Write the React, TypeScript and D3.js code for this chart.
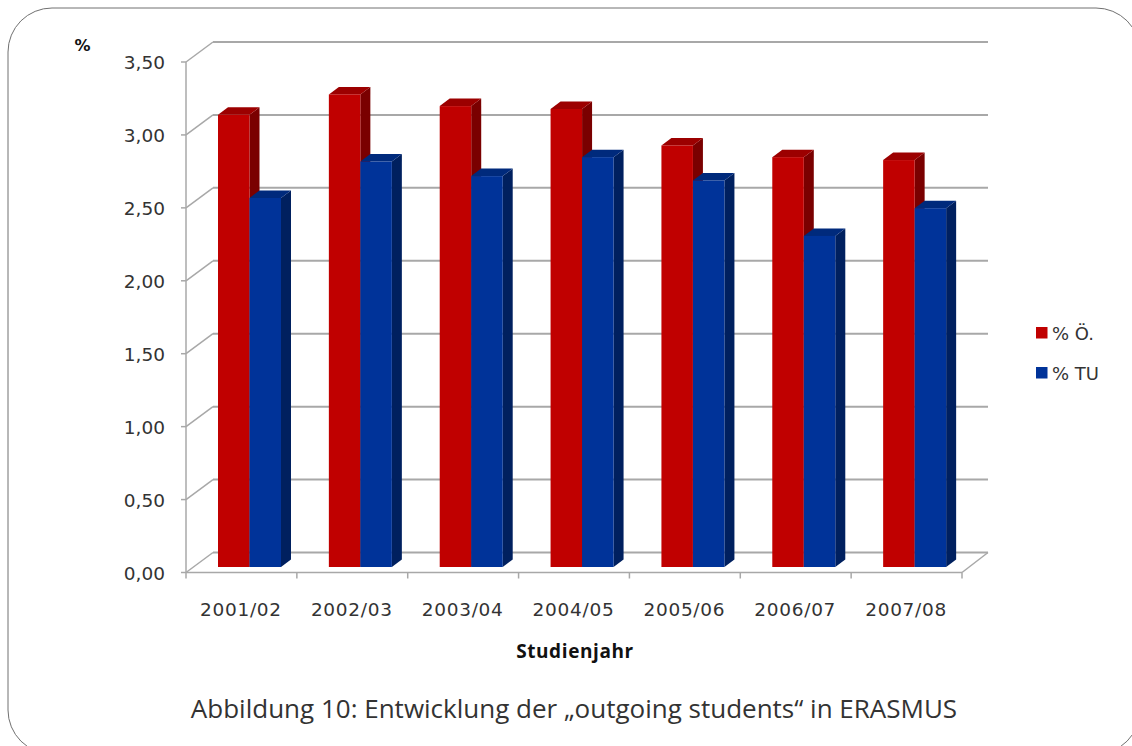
import React from 'react'
import * as d3 from 'd3'

const years = ['2001/02', '2002/03', '2003/04', '2004/05', '2005/06', '2006/07', '2007/08']
const seriesNames = ['% Ö.', '% TU']
const valuesOe = [3.1, 3.24, 3.16, 3.14, 2.89, 2.81, 2.79]
const valuesTu = [2.53, 2.78, 2.68, 2.81, 2.65, 2.27, 2.46]
const yTicks = [0, 0.5, 1, 1.5, 2, 2.5, 3, 3.5]

const WIDTH = 1132
const HEIGHT = 746
const FONT = '"DejaVu Sans", sans-serif'
const CAPTION_FONT = '"Open Sans", "Noto Sans", sans-serif'

// 3D look: the back wall is shifted from the front plane, bars sit in between
const wallDx = 27
const wallDy = -20
const barLift = -5.5
const barDx = 10
const barDy = -7.5

const colors = {
  oe: { front: '#c00000', side: '#7a0000', top: '#9c0000' },
  tu: { front: '#003399', side: '#00205f', top: '#002a7c' },
}
const gridColor = '#a8a8a8'
const textColor = '#333333'

const x = d3.scaleBand<string>().domain(years).range([186, 962])
const inner = d3.scaleBand<string>().domain(seriesNames).range([32, 95])
const y = d3.scaleLinear().domain([0, 3.5]).range([572.5, 62])
const fmt = (v: number) => d3.format('.2f')(v).replace('.', ',')

function Bar({ name, year, value, c }: { name: string; year: string; value: number; c: typeof colors.oe }) {
  const x0 = (x(year) as number) + (inner(name) as number)
  const w = inner.bandwidth()
  const y0 = y(value) + barLift
  const y1 = y(0) + barLift
  const side = d3.path()
  side.moveTo(x0 + w, y0)
  side.lineTo(x0 + w + barDx, y0 + barDy)
  side.lineTo(x0 + w + barDx, y1 + barDy)
  side.lineTo(x0 + w, y1)
  side.closePath()
  const top = d3.path()
  top.moveTo(x0, y0)
  top.lineTo(x0 + barDx, y0 + barDy)
  top.lineTo(x0 + w + barDx, y0 + barDy)
  top.lineTo(x0 + w, y0)
  top.closePath()
  return (
    <g>
      <path d={side.toString()} fill={c.side} />
      <path d={top.toString()} fill={c.top} />
      <rect x={x0} y={y0} width={w} height={y1 - y0} fill={c.front} />
    </g>
  )
}

export default function App() {
  const [xMin, xMax] = x.range()
  return (
    <svg width={WIDTH} height={HEIGHT} style={{ position: 'absolute', left: 0, top: 0, display: 'block', background: '#fff' }}>
      {/* frame runs off the picture at right and bottom */}
      <rect x={8} y={8} width={1132} height={746} rx={44} ry={44} fill="none" stroke="#707070" strokeWidth={1} />

      {/* walls and grid */}
      {yTicks.map(t => (
        <g key={t} stroke={gridColor} fill="none">
          <line x1={xMin + wallDx} x2={xMax + wallDx - 1} y1={y(t) + wallDy} y2={y(t) + wallDy} strokeWidth={2} />
          <line x1={xMin} x2={xMin + wallDx} y1={y(t)} y2={y(t) + wallDy} strokeWidth={1.5} />
          <line x1={xMin - 5} x2={xMin} y1={y(t)} y2={y(t)} strokeWidth={1.5} />
        </g>
      ))}
      <g stroke={gridColor} fill="none" strokeWidth={1.5}>
        <line x1={xMin} x2={xMin} y1={y(3.5)} y2={y(0)} />
        <line x1={xMin} x2={xMax} y1={y(0)} y2={y(0)} />
        <line x1={xMax} x2={xMax + wallDx - 1} y1={y(0)} y2={y(0) + wallDy} />
        {years.map(yr => (
          <line key={yr} x1={x(yr)} x2={x(yr)} y1={y(0)} y2={y(0) + 6} />
        ))}
        <line x1={xMax} x2={xMax} y1={y(0)} y2={y(0) + 6} />
      </g>

      {/* bars, blue goes over the side of the red one */}
      {years.map((yr, i) => (
        <g key={yr}>
          <Bar name={seriesNames[0]} year={yr} value={valuesOe[i]} c={colors.oe} />
          <Bar name={seriesNames[1]} year={yr} value={valuesTu[i]} c={colors.tu} />
        </g>
      ))}

      {/* tick labels */}
      <g fontFamily={FONT} fontSize={18.5} fill={textColor}>
        {yTicks.map(t => (
          <text key={t} x={165} y={y(t) + 7} textAnchor="end">{fmt(t)}</text>
        ))}
        {years.map(yr => (
          <text key={yr} x={(x(yr) as number) + x.bandwidth() / 2 - 0.5} y={616} textAnchor="middle" letterSpacing={0.7}>{yr}</text>
        ))}
      </g>
      <text x={82.5} y={51} textAnchor="middle" fontFamily={FONT} fontSize={16} fontWeight={700} fill="#111">%</text>
      <text x={575} y={658} textAnchor="middle" fontFamily={CAPTION_FONT} fontSize={19} fontWeight={700} letterSpacing={0.6} fill="#111">Studienjahr</text>

      {/* legend */}
      {seriesNames.map((n, i) => (
        <g key={n}>
          <rect x={1036} y={327 + i * 40} width={11.5} height={11.5} fill={i === 0 ? colors.oe.front : colors.tu.front} />
          <text x={1052} y={340 + i * 40} fontFamily={FONT} fontSize={18} fill={textColor}>{n}</text>
        </g>
      ))}

      <text x={574} y={718} textAnchor="middle" fontFamily={CAPTION_FONT} fontSize={26} fontWeight={400} fill="#333">
        Abbildung 10: Entwicklung der „outgoing students“ in ERASMUS
      </text>
    </svg>
  )
}
